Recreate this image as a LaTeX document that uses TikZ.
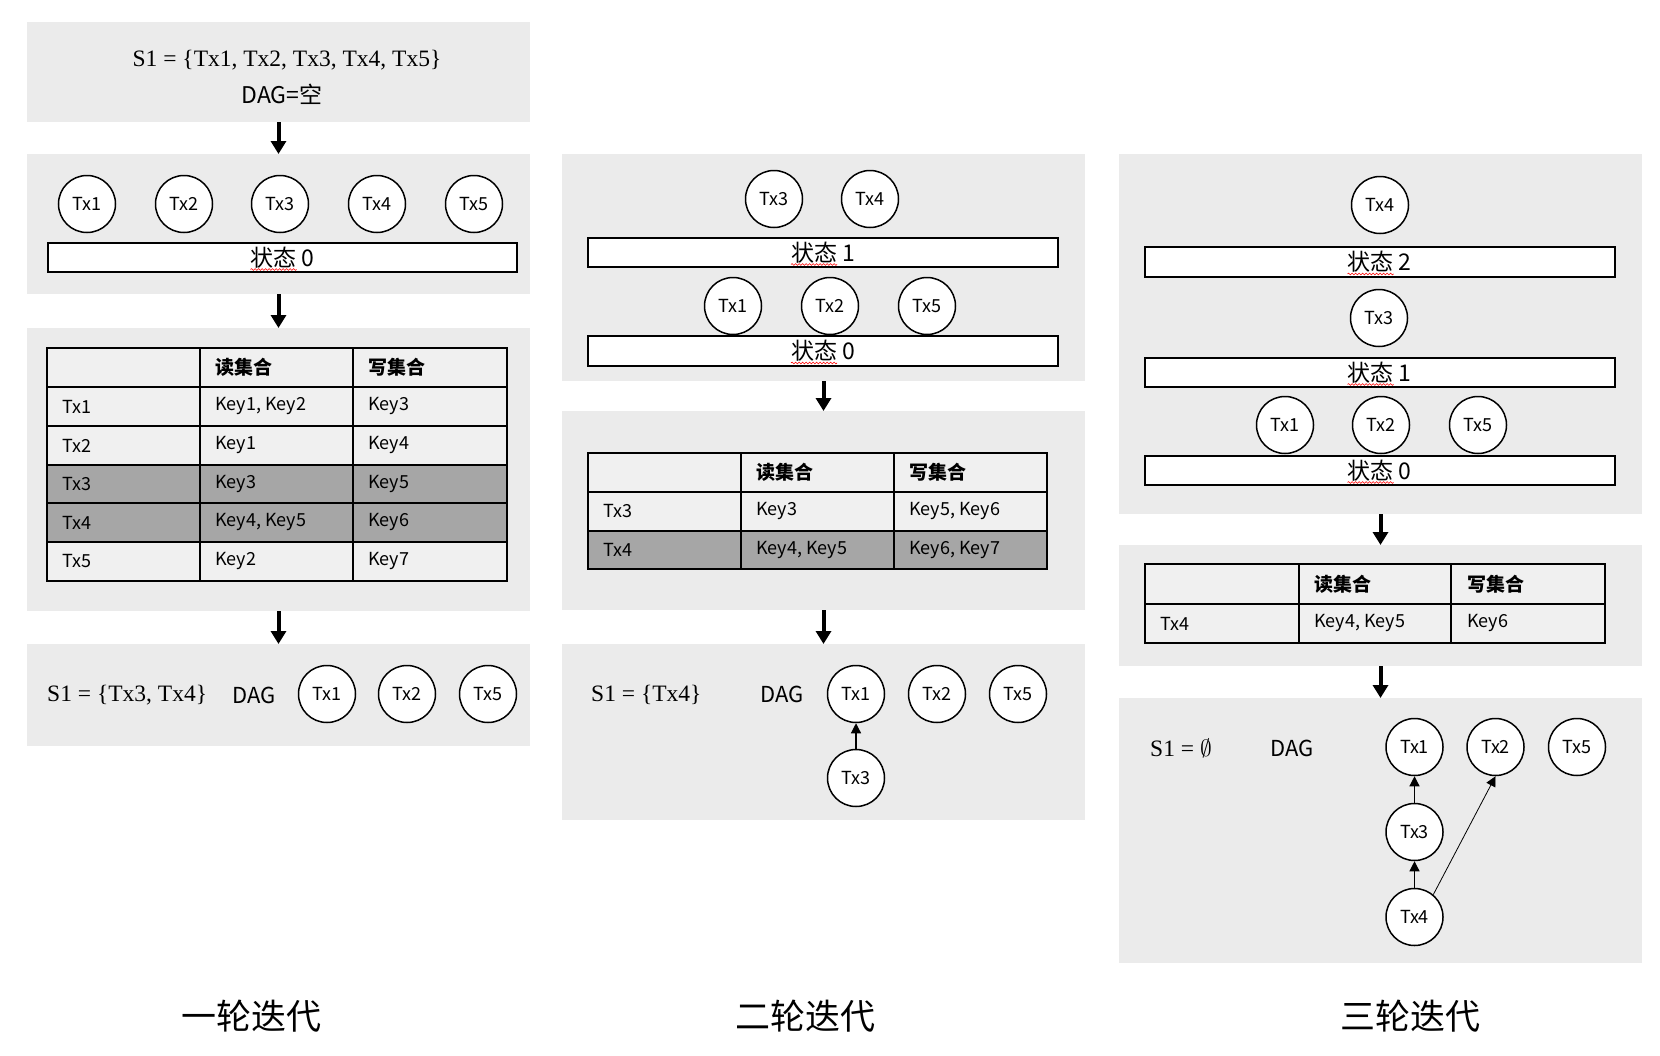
\RequirePackage{fix-cm}
\documentclass[tikz,border=0pt]{standalone}
\usepackage{fontspec}
\setsansfont{Noto Sans CJK SC}
\newfontfamily\formfont{Liberation Serif}
\renewcommand{\familydefault}{\sfdefault}
\usetikzlibrary{arrows.meta,calc,decorations.pathmorphing}
\definecolor{panelgray}{RGB}{235,235,235}
\definecolor{rowgray}{RGB}{240,240,240}
\definecolor{darkrow}{RGB}{166,166,166}
\newcommand{\squig}[1]{\draw[squiggle] ($(#1.center)+(-32,12)$) -- ($(#1.center)+(14,12)$);}
\begin{document}
\begin{tikzpicture}[x=1pt,y=-1pt,
  panel/.style={fill=panelgray, draw=none, inner sep=0pt, outer sep=0pt},
  txc/.style={circle, draw, line width=1.5pt, fill=white, minimum size=57pt, inner sep=0pt, font=\fontsize{18}{18}\selectfont},
  statebox/.style={draw, line width=2pt, fill=white, inner sep=0pt, font=\fontsize{23}{23}\selectfont},
  bigarrow/.style={line width=4pt, -{Triangle[width=15pt,length=13pt]}},
  dagarrow/.style={line width=1.2pt, -{Triangle[width=10pt,length=10pt]}},
  thinarrow/.style={line width=0.8pt, -{Triangle[width=10pt,length=10pt]}},
  tline/.style={line width=1.8pt},
  cell/.style={anchor=west, inner sep=0pt, font=\fontsize{18}{18}\selectfont},
  head/.style={anchor=west, inner sep=0pt, font=\fontsize{19}{19}\selectfont\bfseries},
  formula/.style={anchor=west, inner sep=0pt, font=\formfont\fontsize{23.5}{28}\selectfont},
  dagtxt/.style={anchor=west, inner sep=0pt, font=\fontsize{22}{22}\selectfont},
  caption/.style={inner sep=0pt, font=\fontsize{35}{35}\selectfont},
  squiggle/.style={draw=red, line width=0.6pt, decorate, decoration={snake, amplitude=0.9pt, segment length=3.5pt}}
]
\fill[white] (0,0) rectangle (1660,1055);
\useasboundingbox (0,0) rectangle (1660,1055);

% ================= Column A =================
\node[panel, minimum width=503pt, minimum height=100pt] (pA1) at (278.5,72) {};
\node[panel, minimum width=503pt, minimum height=140pt] (pA2) at (278.5,224) {};
\node[panel, minimum width=503pt, minimum height=283pt] (pA3) at (278.5,469.5) {};
\node[panel, minimum width=503pt, minimum height=102pt] (pA4) at (278.5,695) {};

\node[formula, anchor=center] (a1s) at (287,60) {S1 = \{Tx1, Tx2, Tx3, Tx4, Tx5\}};
\node[inner sep=0pt, font=\fontsize{23}{23}\selectfont] (a1d) at (282,94) {DAG=空};

\node[txc] (a2c1) at (87,204) {Tx1};
\node[txc] (a2c2) at (184,204) {Tx2};
\node[txc] (a2c3) at (280,204) {Tx3};
\node[txc] (a2c4) at (377,204) {Tx4};
\node[txc] (a2c5) at (474,204) {Tx5};
\node[statebox, minimum width=469pt, minimum height=29pt] (a2s0) at (282.5,257.5) {状态 0};
\squig{a2s0}

% table A
\fill[rowgray] (47,348) rectangle (507,465);
\fill[darkrow] (47,465) rectangle (507,542);
\fill[rowgray] (47,542) rectangle (507,581);
\foreach \y in {387,426,465,503,542} \draw[tline] (47,\y) -- (507,\y);
\foreach \x in {200,353} \draw[tline] (\x,348) -- (\x,581);
\draw[tline] (47,348) rectangle (507,581);
\node[head] (tah2) at (215,367.5) {读集合};
\node[head] (tah3) at (368,367.5) {写集合};
\node[cell] (ta11) at (62,406.5) {Tx1};
\node[cell] (ta12) at (215,406.5) {Key1, Key2};
\node[cell] (ta13) at (368,406.5) {Key3};
\node[cell] (ta21) at (62,445.5) {Tx2};
\node[cell] (ta22) at (215,445.5) {Key1};
\node[cell] (ta23) at (368,445.5) {Key4};
\node[cell] (ta31) at (62,484) {Tx3};
\node[cell] (ta32) at (215,484) {Key3};
\node[cell] (ta33) at (368,484) {Key5};
\node[cell] (ta41) at (62,522.5) {Tx4};
\node[cell] (ta42) at (215,522.5) {Key4, Key5};
\node[cell] (ta43) at (368,522.5) {Key6};
\node[cell] (ta51) at (62,561.5) {Tx5};
\node[cell] (ta52) at (215,561.5) {Key2};
\node[cell] (ta53) at (368,561.5) {Key7};

\node[formula] (a4s) at (47,695) {S1 = \{Tx3, Tx4\}};
\node[dagtxt] (a4d) at (232,695) {DAG};
\node[txc] (a4c1) at (327,694) {Tx1};
\node[txc] (a4c2) at (407,694) {Tx2};
\node[txc] (a4c5) at (488,694) {Tx5};

\draw[bigarrow] (pA1.south) -- (pA2.north);
\draw[bigarrow] (pA2.south) -- (pA3.north);
\draw[bigarrow] (pA3.south) -- (pA4.north);

% ================= Column B =================
\node[panel, minimum width=523pt, minimum height=227pt] (pB1) at (823.5,267.5) {};
\node[panel, minimum width=523pt, minimum height=199pt] (pB2) at (823.5,510.5) {};
\node[panel, minimum width=523pt, minimum height=176pt] (pB3) at (823.5,732) {};

\node[txc] (b1c3) at (774,199) {Tx3};
\node[txc] (b1c4) at (870,199) {Tx4};
\node[statebox, minimum width=470pt, minimum height=29pt] (b1s1) at (823,252.5) {状态 1};
\squig{b1s1}
\node[txc] (b1c1) at (733,306) {Tx1};
\node[txc] (b1c2) at (830,306) {Tx2};
\node[txc] (b1c5) at (927,306) {Tx5};
\node[statebox, minimum width=470pt, minimum height=30pt] (b1s0) at (823,351) {状态 0};
\squig{b1s0}

% table B
\fill[rowgray] (588,453) rectangle (1047,531);
\fill[darkrow] (588,531) rectangle (1047,569);
\foreach \y in {492,531} \draw[tline] (588,\y) -- (1047,\y);
\foreach \x in {741,894} \draw[tline] (\x,453) -- (\x,569);
\draw[tline] (588,453) rectangle (1047,569);
\node[head] (tbh2) at (756,472.5) {读集合};
\node[head] (tbh3) at (909,472.5) {写集合};
\node[cell] (tb11) at (603,511.5) {Tx3};
\node[cell] (tb12) at (756,511.5) {Key3};
\node[cell] (tb13) at (909,511.5) {Key5, Key6};
\node[cell] (tb21) at (603,550) {Tx4};
\node[cell] (tb22) at (756,550) {Key4, Key5};
\node[cell] (tb23) at (909,550) {Key6, Key7};

\node[formula] (b3s) at (591,695) {S1 = \{Tx4\}};
\node[dagtxt] (b3d) at (760,694) {DAG};
\node[txc] (b3c1) at (856,694) {Tx1};
\node[txc] (b3c2) at (937,694) {Tx2};
\node[txc] (b3c5) at (1018,694) {Tx5};
\node[txc] (b3c3) at (856,778) {Tx3};
\draw[dagarrow] (b3c3) -- (b3c1);

\draw[bigarrow] (pB1.south) -- (pB2.north);
\draw[bigarrow] (pB2.south) -- (pB3.north);

% ================= Column C =================
\node[panel, minimum width=523pt, minimum height=360pt] (pC1) at (1380.5,334) {};
\node[panel, minimum width=523pt, minimum height=121pt] (pC2) at (1380.5,605.5) {};
\node[panel, minimum width=523pt, minimum height=265pt] (pC3) at (1380.5,830.5) {};

\node[txc] (c1c4) at (1380,205) {Tx4};
\node[statebox, minimum width=470pt, minimum height=30pt] (c1s2) at (1379.5,262) {状态 2};
\squig{c1s2}
\node[txc] (c1c3) at (1379,318) {Tx3};
\node[statebox, minimum width=470pt, minimum height=29pt] (c1s1) at (1379.5,372.5) {状态 1};
\squig{c1s1}
\node[txc] (c1c1) at (1285,425) {Tx1};
\node[txc] (c1c2) at (1381,425) {Tx2};
\node[txc] (c1c5) at (1478,425) {Tx5};
\node[statebox, minimum width=470pt, minimum height=29pt] (c1s0) at (1379.5,470.5) {状态 0};
\squig{c1s0}

% table C
\fill[rowgray] (1145,564) rectangle (1605,643);
\draw[tline] (1145,604) -- (1605,604);
\foreach \x in {1299,1451} \draw[tline] (\x,564) -- (\x,643);
\draw[tline] (1145,564) rectangle (1605,643);
\node[head] (tch2) at (1314,584) {读集合};
\node[head] (tch3) at (1467,584) {写集合};
\node[cell] (tc11) at (1160,623.5) {Tx4};
\node[cell] (tc12) at (1314,623.5) {Key4, Key5};
\node[cell] (tc13) at (1467,623.5) {Key6};

\node[formula] (c3s) at (1150,748) {S1 = $\emptyset$};
\node[dagtxt] (c3d) at (1270,748) {DAG};
\node[txc] (c3c1) at (1414.5,747) {Tx1};
\node[txc] (c3c2) at (1495.5,747) {Tx2};
\node[txc] (c3c5) at (1577,747) {Tx5};
\node[txc] (c3c3) at (1414.5,832) {Tx3};
\node[txc] (c3c4) at (1414.5,917) {Tx4};
\draw[dagarrow] (c3c3) -- (c3c1);
\draw[dagarrow] (c3c4) -- (c3c3);
\draw[thinarrow] (c3c4.50) -- (c3c2.south);

\draw[bigarrow] (pC1.south) -- (pC2.north);
\draw[bigarrow] (pC2.south) -- (pC3.north);

% ================= captions =================
\node[caption] (capA) at (251.5,1016) {一轮迭代};
\node[caption] (capB) at (805,1016) {二轮迭代};
\node[caption] (capC) at (1410,1016) {三轮迭代};
\end{tikzpicture}
\end{document}
